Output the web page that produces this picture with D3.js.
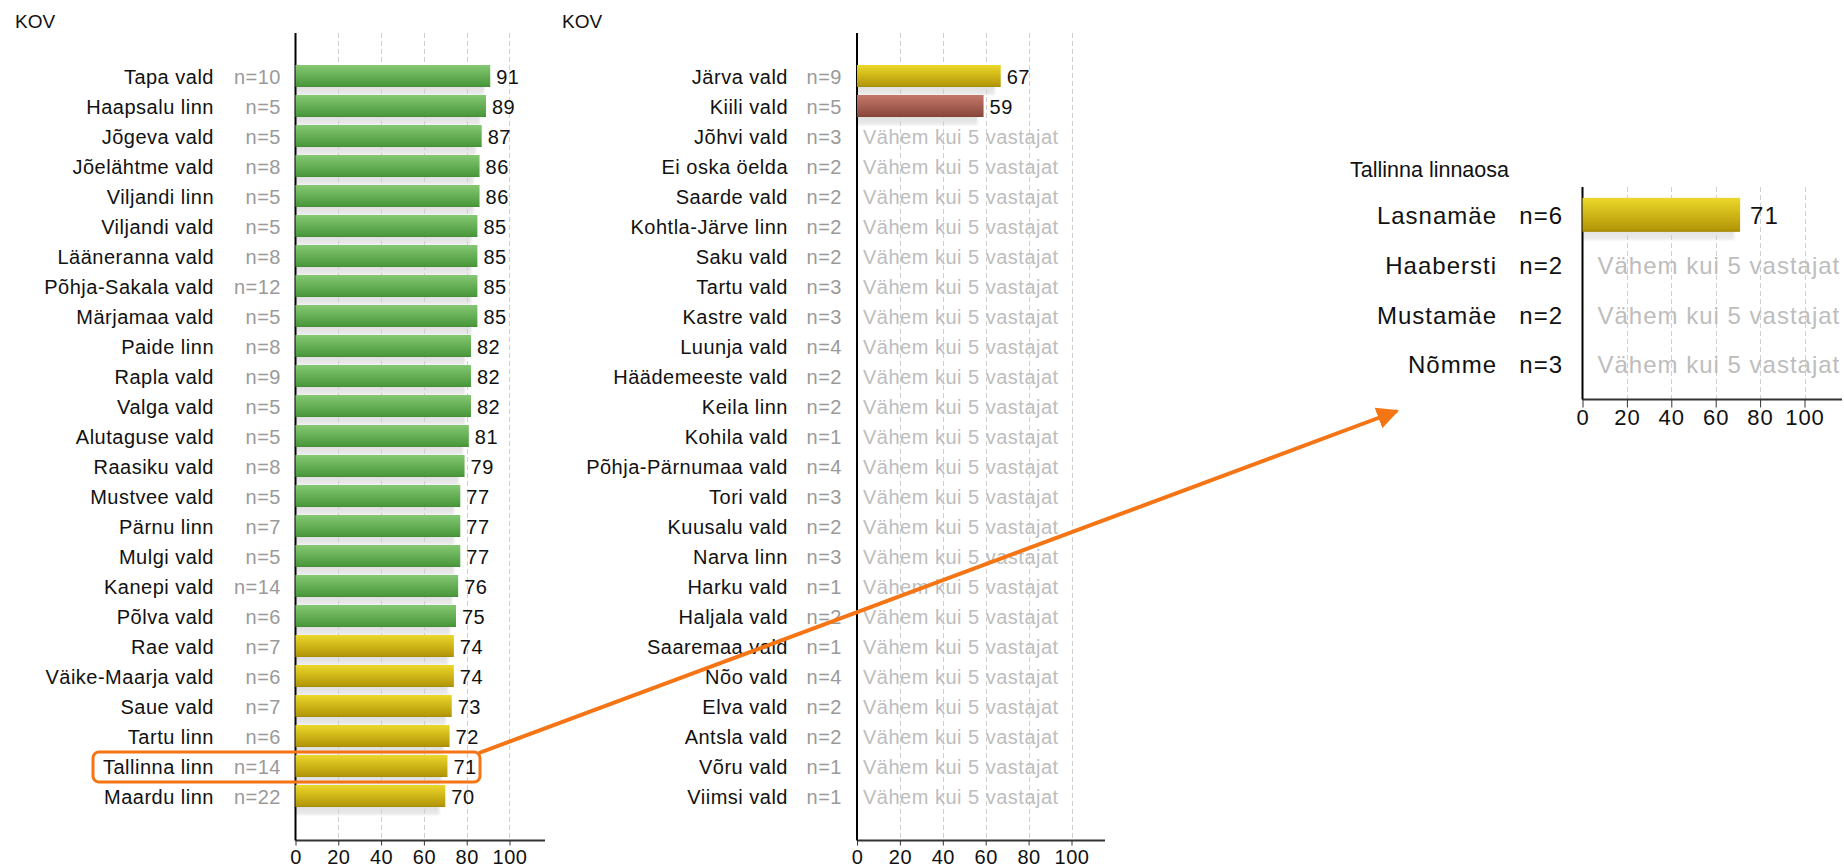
<!DOCTYPE html>
<html>
<head>
<meta charset="utf-8">
<script src="https://cdn.jsdelivr.net/npm/d3@7"></script>
<style>
    body { margin: 0; background: #fff; }
    svg { display: block; font-family: "Liberation Sans", Arial, sans-serif; }
</style>
</head>
<body>
<div id="chart"></div>
<script>
(function () {
    'use strict';

    // data; null = fewer than 5 respondents
    var leftNames = ["Tapa vald", "Haapsalu linn", "Jõgeva vald", "Jõelähtme vald", "Viljandi linn", "Viljandi vald",
        "Lääneranna vald", "Põhja-Sakala vald", "Märjamaa vald", "Paide linn", "Rapla vald", "Valga vald",
        "Alutaguse vald", "Raasiku vald", "Mustvee vald", "Pärnu linn", "Mulgi vald", "Kanepi vald", "Põlva vald",
        "Rae vald", "Väike-Maarja vald", "Saue vald", "Tartu linn", "Tallinna linn", "Maardu linn"];
    var leftN = [10, 5, 5, 8, 5, 5, 8, 12, 5, 8, 9, 5, 5, 8, 5, 7, 5, 14, 6, 7, 6, 7, 6, 14, 22];
    var leftValues = [91, 89, 87, 86, 86, 85, 85, 85, 85, 82, 82, 82, 81, 79, 77, 77, 77, 76, 75, 74, 74, 73, 72, 71, 70];

    var midNames = ["Järva vald", "Kiili vald", "Jõhvi vald", "Ei oska öelda", "Saarde vald", "Kohtla-Järve linn",
        "Saku vald", "Tartu vald", "Kastre vald", "Luunja vald", "Häädemeeste vald", "Keila linn", "Kohila vald",
        "Põhja-Pärnumaa vald", "Tori vald", "Kuusalu vald", "Narva linn", "Harku vald", "Haljala vald",
        "Saaremaa vald", "Nõo vald", "Elva vald", "Antsla vald", "Võru vald", "Viimsi vald"];
    var midN = [9, 5, 3, 2, 2, 2, 2, 3, 3, 4, 2, 2, 1, 4, 3, 2, 3, 1, 2, 1, 4, 2, 2, 1, 1];
    var midValues = [67, 59, null, null, null, null, null, null, null, null, null, null, null,
        null, null, null, null, null, null, null, null, null, null, null, null];

    var districtNames = ["Lasnamäe", "Haabersti", "Mustamäe", "Nõmme"];
    var districtN = [6, 2, 2, 3];
    var districtValues = [71, null, null, null];

    var xTicks = [0, 20, 40, 60, 80, 100];
    var smallSampleText = "Vähem kui 5 vastajat";
    var highlighted = "Tallinna linn";

    var width = 1844, height = 868;

    var svg = d3.select("#chart").append("svg")
        .attr("width", width)
        .attr("height", height);

    var defs = svg.append("defs");

    function gradient(id, top, bottom) {
        var g = defs.append("linearGradient").attr("id", id)
            .attr("x1", 0).attr("y1", 0).attr("x2", 0).attr("y2", 1);
        g.append("stop").attr("offset", "0%").attr("stop-color", top);
        g.append("stop").attr("offset", "92%").attr("stop-color", bottom);
        g.append("stop").attr("offset", "100%").attr("stop-color", d3.rgb(bottom).darker(0.3));
    }
    gradient("gGreen", "#84c873", "#4c9a3d");
    gradient("gYellow", "#ecd82a", "#b59808");
    gradient("gRed", "#c37869", "#8d4a3f");

    var shadowGrad = defs.append("linearGradient").attr("id", "gShadow")
        .attr("x1", 0).attr("y1", 0).attr("x2", 0).attr("y2", 1);
    shadowGrad.append("stop").attr("offset", "0%").attr("stop-color", "#c4c4c4");
    shadowGrad.append("stop").attr("offset", "100%").attr("stop-color", "#ececec");

    defs.append("filter").attr("id", "blur")
        .attr("x", "-5%").attr("y", "-50%").attr("width", "110%").attr("height", "200%")
        .append("feGaussianBlur").attr("stdDeviation", 1.2);

    function barFill(v) {
        if (v >= 75) return "url(#gGreen)";
        if (v >= 60) return "url(#gYellow)";
        return "url(#gRed)";
    }

    function drawPanel(opts) {
        var g = svg.append("g");
        var rows = opts.names.map(function (name, i) {
            return { name: name, n: opts.n[i], value: opts.values[i] };
        });

        var x = d3.scaleLinear().domain([0, opts.max]).range([opts.x0, opts.x1]);
        var y = d3.scaleBand().domain(opts.names).range([opts.bandTop, opts.bandTop + opts.step * rows.length]);

        g.append("text")
            .attr("x", opts.titleX).attr("y", opts.titleY)
            .attr("dy", "0.35em")
            .attr("font-size", opts.titleSize)
            .attr("fill", "#111")
            .text(opts.title);

        // shadows behind bars
        g.selectAll(".shadow")
            .data(rows.filter(function (d) { return d.value !== null; }))
            .enter().append("rect")
            .attr("class", "shadow")
            .attr("x", x(0))
            .attr("y", function (d) { return y(d.name) + y.bandwidth() / 2 - opts.barH / 2 - 1 + 3; })
            .attr("width", function (d) { return Math.max(0, x(d.value) - x(0) - 6); })
            .attr("height", opts.barH + 5)
            .attr("fill", "url(#gShadow)")
            .attr("filter", "url(#blur)");

        // dashed grid
        g.selectAll(".grid")
            .data(xTicks.filter(function (t) { return t > 0; }))
            .enter().append("line")
            .attr("class", "grid")
            .attr("x1", function (t) { return Math.round(x(t)) + 0.5; })
            .attr("x2", function (t) { return Math.round(x(t)) + 0.5; })
            .attr("y1", opts.top).attr("y2", opts.bottom)
            .attr("stroke", "#cfcfcf")
            .attr("stroke-dasharray", "5,3");

        // value axis
        var axis = g.append("g")
            .attr("transform", "translate(0," + opts.bottom + ")")
            .call(d3.axisBottom(x).tickValues(xTicks).tickSize(opts.tickLen).tickPadding(opts.tickPad));
        axis.select(".domain").attr("stroke", "#333").attr("stroke-width", 2)
            .attr("d", "M" + x(0) + ",0H" + opts.xEnd);
        axis.selectAll(".tick line").attr("stroke", "#333");
        axis.selectAll(".tick text")
            .attr("font-size", opts.tickSize)
            .attr("letter-spacing", opts.tickSpacing)
            .attr("font-family", "Liberation Sans, Arial, sans-serif")
            .attr("fill", "#111");

        g.append("line")
            .attr("x1", x(0)).attr("x2", x(0))
            .attr("y1", opts.top).attr("y2", opts.bottom)
            .attr("stroke", "#000").attr("stroke-width", 2);

        var row = g.selectAll(".row")
            .data(rows)
            .enter().append("g")
            .attr("class", "row")
            .attr("font-size", opts.fontSize)
            .attr("letter-spacing", opts.spacing)
            .attr("transform", function (d) { return "translate(0," + (y(d.name) + y.bandwidth() / 2) + ")"; });

        row.append("text")
            .attr("x", opts.nameRight)
            .attr("dy", "0.35em")
            .attr("text-anchor", "end")
            .attr("fill", "#111")
            .text(function (d) { return d.name; });

        row.append("text")
            .attr("x", opts.nRight)
            .attr("dy", "0.35em")
            .attr("text-anchor", "end")
            .attr("fill", opts.nColor)
            .text(function (d) { return "n=" + d.n; });

        var withValue = row.filter(function (d) { return d.value !== null; });

        withValue.append("rect")
            .attr("x", x(0))
            .attr("y", -opts.barH / 2 - 1)
            .attr("width", function (d) { return x(d.value) - x(0); })
            .attr("height", opts.barH)
            .attr("fill", function (d) { return barFill(d.value); });

        withValue.append("text")
            .attr("x", function (d) { return x(d.value) + opts.valueGap; })
            .attr("dy", "0.35em")
            .attr("fill", "#111")
            .text(function (d) { return d.value; });

        row.filter(function (d) { return d.value === null; })
            .append("text")
            .attr("x", x(0) + opts.emptyGap)
            .attr("dy", "0.35em")
            .attr("fill", "#bdbdbd")
            .text(smallSampleText);

        return { x: x, y: y };
    }

    var left = drawPanel({
        title: "KOV", titleX: 15, titleY: 21, titleSize: 19,
        names: leftNames, n: leftN, values: leftValues,
        max: 116.5, x0: 295.5, x1: 295.5 + 2.14 * 116.5, xEnd: 545,
        top: 33, bottom: 840.5, bandTop: 62, step: 30, barH: 22,
        nameRight: 214, nRight: 281, nColor: "#9a9a9a",
        fontSize: 20, spacing: 0.5, tickSize: 20, tickSpacing: 0.5, tickLen: 5, tickPad: 4, valueGap: 6, emptyGap: 6
    });

    drawPanel({
        title: "KOV", titleX: 562, titleY: 21, titleSize: 19,
        names: midNames, n: midN, values: midValues,
        max: 115.5, x0: 857, x1: 857 + 2.145 * 115.5, xEnd: 1105,
        top: 33, bottom: 840.5, bandTop: 62, step: 30, barH: 22,
        nameRight: 788, nRight: 842, nColor: "#9a9a9a",
        fontSize: 20, spacing: 0.5, tickSize: 20, tickSpacing: 0.5, tickLen: 5, tickPad: 4, valueGap: 6, emptyGap: 6
    });

    drawPanel({
        title: "Tallinna linnaosa", titleX: 1350, titleY: 169, titleSize: 21.5,
        names: districtNames, n: districtN, values: districtValues,
        max: 116, x0: 1582.5, x1: 1582.5 + 2.22 * 116, xEnd: 1842,
        top: 187, bottom: 399.5, bandTop: 191, step: 49.7, barH: 34,
        nameRight: 1497, nRight: 1563, nColor: "#111",
        fontSize: 24, spacing: 1, tickSize: 22, tickSpacing: 1, tickLen: 8, tickPad: 2, valueGap: 10, emptyGap: 15
    });

    // highlight box around the Tallinn row and arrow to the district panel
    var hy = left.y(highlighted) + left.y.bandwidth() / 2;
    var orange = "#f57515";

    defs.append("marker")
        .attr("id", "arrowHead")
        .attr("viewBox", "0 0 10 10")
        .attr("refX", 9).attr("refY", 5)
        .attr("markerWidth", 5.5).attr("markerHeight", 5.5)
        .attr("orient", "auto")
        .append("path")
        .attr("d", "M0,0L10,5L0,10z")
        .attr("fill", orange);

    svg.append("rect")
        .attr("x", 93).attr("y", hy - 15)
        .attr("width", 387).attr("height", 30)
        .attr("rx", 6).attr("ry", 6)
        .attr("fill", "none")
        .attr("stroke", orange)
        .attr("stroke-width", 3);

    svg.append("line")
        .attr("x1", 479).attr("y1", hy - 14)
        .attr("x2", 1397).attr("y2", 411)
        .attr("stroke", orange)
        .attr("stroke-width", 4)
        .attr("marker-end", "url(#arrowHead)");
})();
</script>
</body>
</html>
